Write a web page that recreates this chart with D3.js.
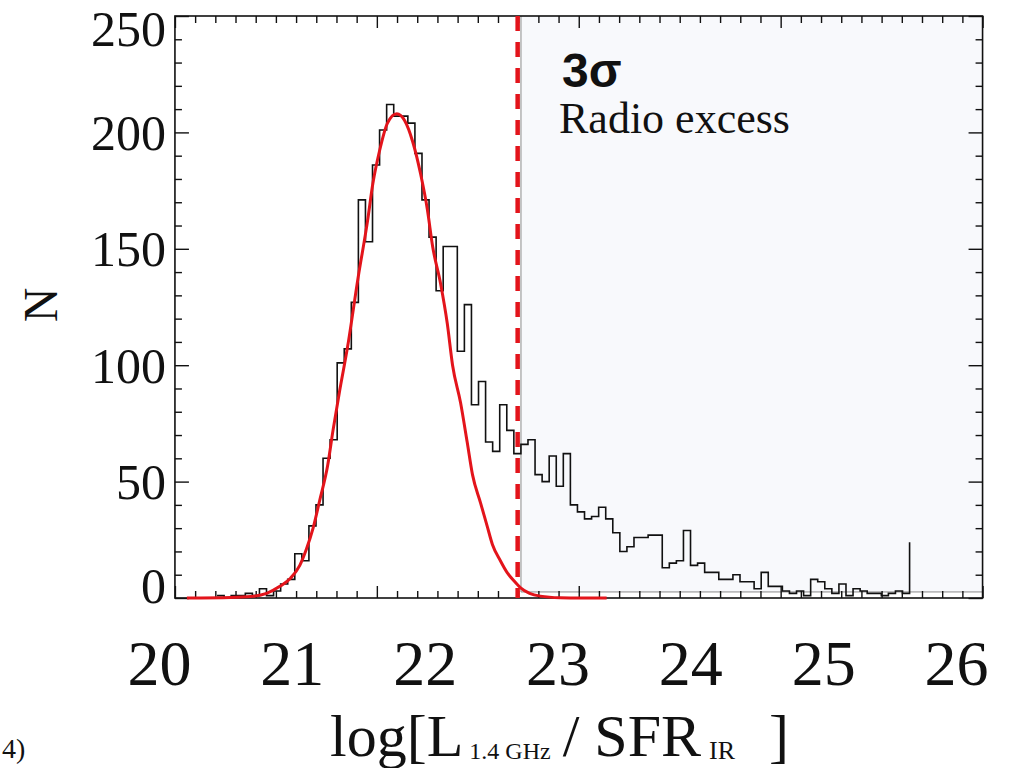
<!DOCTYPE html>
<html lang="en">
<head>
<meta charset="utf-8">
<style>
  body { margin: 0; background: #fff; }
  svg { display: block; }
  .serif { font-family: "Liberation Serif", "Times New Roman", serif; fill: #111; }
</style>
<script src="https://d3js.org/d3.v7.min.js"></script>
</head>
<body>
<svg width="1011" height="768"></svg>
<script>
// histogram of log[L1.4GHz / SFR_IR], counts per bin
var histStart = 20.437;
var binWidth = 0.0532;
var counts = [1, 0, 1, 1, 2, 1, 4, 1, 3, 6, 8, 19, 16, 31, 40, 60, 68,
    101, 107, 127, 171, 153, 186, 201, 212, 207, 207, 204, 191, 171, 155, 132, 151, 151,
    106, 126, 83, 93, 67, 63, 83, 72, 62, 66, 68, 53, 50, 61, 48, 62,
    40, 37, 34, 35, 39, 34, 28, 20, 22, 26, 26, 27, 27,
    13, 15, 16, 29, 14, 15, 11, 11, 8, 8, 10, 7, 7, 4, 11, 5, 5,
    3, 2, 3, 1, 8, 7, 4, 2, 6, 1, 4, 3, 2, 2, 1, 2, 3, 2, 24];

// gaussian fit (red), sampled from the figure
var fitX = [20.21, 20.54, 20.69, 20.81, 20.91, 20.99, 21.06, 21.11, 21.16, 21.21, 21.27,
    21.31, 21.36, 21.42, 21.50, 21.57, 21.61, 21.66, 21.72, 21.79, 21.85, 21.91, 21.97,
    22.02, 22.06, 22.12, 22.17, 22.21, 22.27, 22.32, 22.36, 22.42, 22.47, 22.51, 22.57,
    22.62, 22.67, 22.72, 22.79, 22.87, 23.02, 23.17, 23.37];
var fitN = [0, 0.2, 0.6, 2, 5, 8.5, 14, 21, 30, 42, 57,
    72, 89, 108, 138, 162, 178, 192, 204, 208, 205, 196, 182,
    167, 151, 135, 118, 100, 84, 67, 53, 41, 31, 23, 16,
    11, 7.5, 4.5, 2, 0.8, 0.1, 0, 0];

var threshold = 22.70;     // 3 sigma cut
var shadeStart = 22.725;   // radio-excess region
var shadeFloor = 2.6;
var frameRange = [20.12, 26.2];
var xTickLabels = [20, 21, 22, 23, 24, 25, 26];
var yTickLabels = [0, 50, 100, 150, 200, 250];

var svg = d3.select("svg");
var x = d3.scaleLinear().domain([20, 26]).range([159, 956]);
var y = d3.scaleLinear().domain([0, 250]).range([598, 16]);

var fx0 = x(frameRange[0]), fx1 = x(frameRange[1]);
var fy0 = y(250), fy1 = y(0);

// shaded radio excess box
svg.append("rect")
    .attr("x", x(shadeStart)).attr("y", fy0)
    .attr("width", fx1 - x(shadeStart)).attr("height", y(shadeFloor) - fy0)
    .attr("fill", "#f8f9fc");
svg.append("path")
    .attr("d", "M" + x(shadeStart) + "," + fy0 + "V" + y(shadeFloor) + "H" + fx1)
    .attr("fill", "none").attr("stroke", "#8c8c8c").attr("stroke-width", 1);

// histogram steps
var pts = counts.map(function(c, i) { return [histStart + i * binWidth, c]; });
var step = d3.line()
    .x(function(d) { return x(d[0]); })
    .y(function(d) { return y(d[1]); })
    .curve(d3.curveStepAfter);
svg.append("path")
    .attr("d", step(pts))
    .attr("fill", "none").attr("stroke", "#111").attr("stroke-width", 1.6);

// frame and ticks
svg.append("rect")
    .attr("x", fx0).attr("y", fy0)
    .attr("width", fx1 - fx0).attr("height", fy1 - fy0)
    .attr("fill", "none").attr("stroke", "#111").attr("stroke-width", 1.6);

var yMinor = d3.range(0, 251, 10);
function tickLen(major) { return major ? 14 : 7; }

var left = svg.append("g").attr("transform", "translate(" + fx0 + ",0)")
    .call(d3.axisRight(y).tickValues(yMinor).tickFormat(""));
var right = svg.append("g").attr("transform", "translate(" + fx1 + ",0)")
    .call(d3.axisLeft(y).tickValues(yMinor).tickFormat(""));
left.selectAll(".tick line").attr("x2", function(d) { return tickLen(d % 50 === 0); });
right.selectAll(".tick line").attr("x2", function(d) { return -tickLen(d % 50 === 0); });

var fs = d3.scaleLinear().domain([0, 40]).range([fx0, fx1]);
var top_ = svg.append("g").attr("transform", "translate(0," + fy0 + ")")
    .call(d3.axisBottom(fs).tickValues(d3.range(0, 41)).tickFormat(""));
var bot = svg.append("g").attr("transform", "translate(0," + fy1 + ")")
    .call(d3.axisTop(fs).tickValues(d3.range(0, 41)).tickFormat(""));
top_.selectAll(".tick line").attr("y2", function(d) { return d % 10 === 0 ? 12 : 7; });
bot.selectAll(".tick line").attr("y2", function(d) { return d % 10 === 0 ? -12 : -7; });
svg.selectAll(".domain").remove();
svg.selectAll(".tick line").attr("stroke", "#111").attr("stroke-width", 1.4);

// gaussian fit
var fitLine = d3.line()
    .x(function(d, i) { return x(fitX[i]); })
    .y(function(d) { return y(d); })
    .curve(d3.curveMonotoneX);
svg.append("path")
    .attr("d", fitLine(fitN))
    .attr("fill", "none").attr("stroke", "#e3141b").attr("stroke-width", 3);

// 3 sigma line
svg.append("line")
    .attr("x1", x(threshold)).attr("x2", x(threshold))
    .attr("y1", fy0).attr("y2", fy1)
    .attr("stroke", "#e3141b").attr("stroke-width", 4.5)
    .attr("stroke-dasharray", "15,11");

// y tick labels
svg.selectAll(".ylab").data(yTickLabels).enter().append("text")
    .attr("class", "serif ylab")
    .attr("x", 166)
    .attr("y", function(d) { return Math.min(Math.max(y(d), 28), 585); })
    .attr("dy", "0.35em")
    .attr("text-anchor", "end")
    .attr("font-size", 50)
    .text(function(d) { return d; });

// x tick labels
svg.append("g").attr("transform", "translate(0,685)")
    .call(d3.axisBottom(x).tickValues(xTickLabels).tickSize(0).tickFormat(d3.format("d")))
    .call(function(g) { g.select(".domain").remove(); })
    .selectAll("text")
    .attr("class", "serif")
    .attr("y", 0).attr("dy", 0)
    .attr("font-size", 64)
    .attr("fill", "#111");

// axis titles
svg.append("text")
    .attr("class", "serif")
    .attr("transform", "translate(40,305) rotate(-90)")
    .attr("text-anchor", "middle")
    .attr("dy", "0.35em")
    .attr("font-size", 48)
    .text("N");

var xt = svg.append("text").attr("class", "serif")
    .attr("x", 330).attr("y", 756).attr("font-size", 60);
xt.append("tspan").text("log[L");
xt.append("tspan").attr("font-size", 24).attr("dx", 6).attr("dy", 3).text("1.4 GHz");
xt.append("tspan").attr("dx", 12).attr("dy", -3).text("/ SFR");
xt.append("tspan").attr("font-size", 26).attr("dx", 8).attr("dy", 3).text("IR");
xt.append("tspan").attr("dx", 34).attr("dy", -3).text("]");

svg.append("text")
    .attr("x", 562).attr("y", 87)
    .attr("font-family", "'Liberation Sans', Arial, sans-serif")
    .attr("font-weight", "bold").attr("font-size", 48).attr("fill", "#111")
    .text("3σ");
svg.append("text").attr("class", "serif")
    .attr("x", 559).attr("y", 133).attr("font-size", 44)
    .text("Radio excess");

svg.append("text").attr("class", "serif")
    .attr("x", 2).attr("y", 758).attr("font-size", 28)
    .text("4)");
</script>
</body>
</html>
